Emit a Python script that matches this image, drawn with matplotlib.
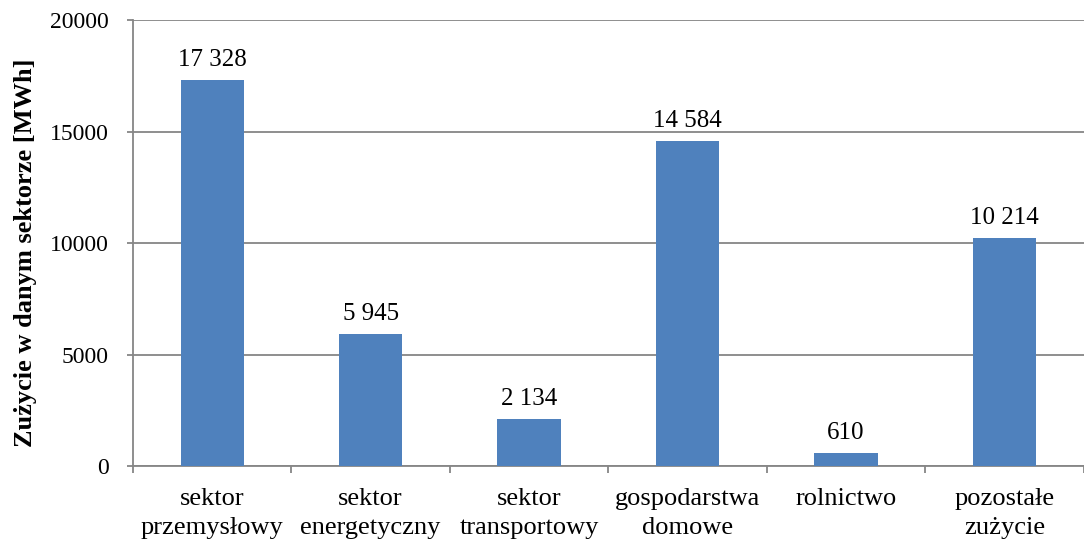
import matplotlib
matplotlib.use("Agg")
import matplotlib.pyplot as plt

categories = ["sektor\nprzemysłowy", "sektor\nenergetyczny", "sektor\ntransportowy",
              "gospodarstwa\ndomowe", "rolnictwo", "pozostałe\nzużycie"]
values = [17328, 5945, 2134, 14584, 610, 10214]
labels = ["17 328", "5 945", "2 134", "14 584", "610", "10 214"]
yticks = [0, 5000, 10000, 15000, 20000]

plt.rcParams['font.family'] = ['Liberation Serif', 'DejaVu Serif']

fig = plt.figure(figsize=(10.84, 5.42), dpi=100)
ax = fig.add_axes([0.1227, 0.140, 0.877, 0.823])

x = range(len(categories))
bars = ax.bar(x, values, width=0.40, color="#4F81BD", zorder=3)
for xi, v, lab in zip(x, values, labels):
    ax.annotate(lab, (xi, v), xytext=(0, 10), textcoords="offset points",
                ha="center", va="baseline", fontsize=18)

ax.set_xlim(-0.5, len(categories) - 0.5)
ax.set_ylim(0, 20000)
ax.set_yticks(yticks)
ax.set_yticklabels([str(t) for t in yticks], fontsize=17)
ax.yaxis.grid(True, color="#868686", linewidth=1.3, zorder=0)
ax.set_axisbelow(True)

ax.set_xticks([i + 0.5 for i in range(-1, len(categories))])
ax.set_xticklabels([])
ax.set_xticks(list(x), minor=True)
ax.set_xticklabels(categories, minor=True, fontsize=19)
for t in ax.get_xticklabels(minor=True):
    t.set_linespacing(1.4)
ax.tick_params(axis="x", which="minor", length=0, pad=16)
ax.tick_params(axis="x", which="major", length=5, color="#868686", width=1.3)
ax.tick_params(axis="y", length=4.5, color="#868686", width=1.3, pad=13)

for s in ["top", "right"]:
    ax.spines[s].set_visible(False)
for s in ["left", "bottom"]:
    ax.spines[s].set_color("#868686")
    ax.spines[s].set_linewidth(1.3)

ax.set_ylabel("Zużycie w danym sektorze [MWh]", fontsize=19, fontweight="bold")
ax.yaxis.set_label_coords(-0.101, 0.478)

fig.savefig("out.png", dpi=100)
